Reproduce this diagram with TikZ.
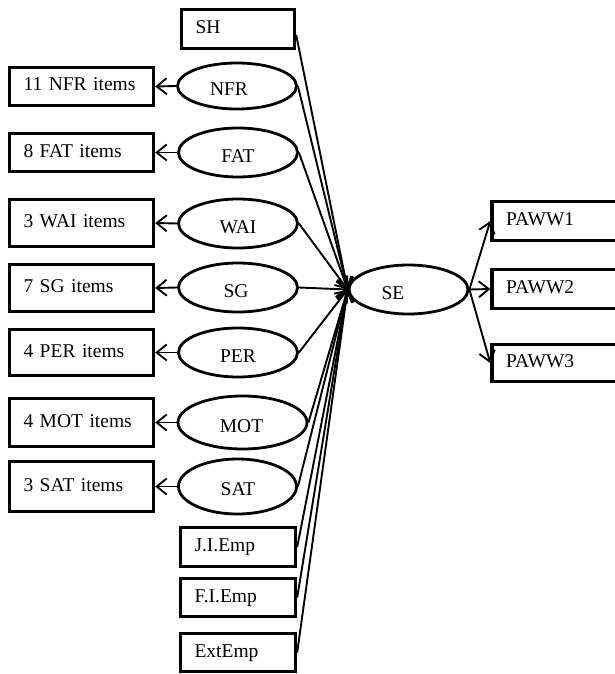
\documentclass[tikz,border=0pt]{standalone}
\usepackage{fontspec}
\setmainfont{Liberation Serif}
\usetikzlibrary{arrows.meta,shapes.geometric}
\begin{document}
\begin{tikzpicture}[x=1pt,y=-1pt,
  font=\fontsize{19.5}{22}\selectfont,
  box/.style={draw, line width=3.4pt, rectangle, inner xsep=14pt, inner ysep=0pt,
              align=left, text height=13pt, text depth=4pt},
  itembox/.style={box, minimum width=144pt, text width=116pt},
  sidebox/.style={box, minimum width=115pt, text width=87pt, minimum height=38pt},
  outbox/.style={box, minimum width=130pt, text width=102pt, minimum height=39pt},
  lat/.style={draw, ellipse, line width=2.8pt, minimum width=119pt, minimum height=49pt, inner sep=0pt},
  lbl/.style={inner sep=0pt, text height=13pt, text depth=4pt},
  arr/.style={line width=1.9pt, -{Straight Barb[length=10pt,width=16pt]}}]
\useasboundingbox (0,0) rectangle (615,674);

% left indicator boxes
\node[itembox, minimum height=38pt] (iNFR) at (81.5,86.5) {11 NFR items};
\node[itembox, minimum height=38pt] (iFAT) at (81.5,152.5) {8 FAT items};
\node[itembox, minimum height=47pt] (iWAI) at (81.5,223) {3 WAI items};
\node[itembox, minimum height=47pt] (iSG) at (81.5,288) {7 SG items};
\node[itembox, minimum height=46pt] (iPER) at (81.5,352.5) {4 PER items};
\node[itembox, minimum height=48pt] (iMOT) at (81.5,422.5) {4 MOT items};
\node[itembox, minimum height=50pt] (iSAT) at (81.5,486.5) {3 SAT items};

% latent ellipses
\node[lat, minimum height=46pt] (NFR) at (237,86) {};
\node[lat] (FAT) at (238,152.5) {};
\node[lat] (WAI) at (238,223.5) {};
\node[lat] (SG) at (238,287.5) {};
\node[lat] (PER) at (238,352.5) {};
\node[lat, minimum width=129pt, minimum height=53pt] (MOT) at (242.5,422.5) {};
\node[lat, minimum width=118pt, minimum height=55pt] (SAT) at (237.5,486.5) {};
\node[lat] (SE) at (408.5,289.5) {};

\node[lbl] (tNFR) at (229,91) {NFR};
\node[lbl] (tFAT) at (238,158) {FAT};
\node[lbl] (tWAI) at (238,229) {WAI};
\node[lbl] (tSG) at (236,293) {SG};
\node[lbl] (tPER) at (238,358) {PER};
\node[lbl] (tMOT) at (241.5,428) {MOT};
\node[lbl] (tSAT) at (238,491) {SAT};
\node[lbl] (tSE) at (393,295) {SE};

% side boxes
\node[sidebox, minimum width=113pt, text width=85pt, minimum height=39pt] (SH) at (238,29) {SH};
\node[sidebox, minimum height=39pt] (JIE) at (238,547) {J.I.Emp};
\node[sidebox] (FIE) at (238,597.5) {F.I.Emp};
\node[sidebox] (EXT) at (238,652.5) {ExtEmp};

% outcome boxes
\node[outbox] (P1) at (557,221) {PAWW1};
\node[outbox] (P2) at (557,289) {PAWW2};
\node[outbox, minimum height=37pt] (P3) at (557,363) {PAWW3};

% measurement arrows
\foreach \l in {NFR,FAT,WAI,SG,PER,MOT,SAT}
  \draw[arr] (\l.west) -- (i\l.east);

% structural arrows into SE
\draw[arr] ([yshift=-6pt]SH.east) -- (SE.west);
\foreach \l in {NFR,FAT,WAI,SG,PER,MOT,SAT,JIE,FIE,EXT}
  \draw[arr] (\l.east) -- (SE.west);

% SE to outcomes
\foreach \p in {P1,P2,P3}
  \draw[arr] (SE.east) -- (\p.west);
\end{tikzpicture}
\end{document}
